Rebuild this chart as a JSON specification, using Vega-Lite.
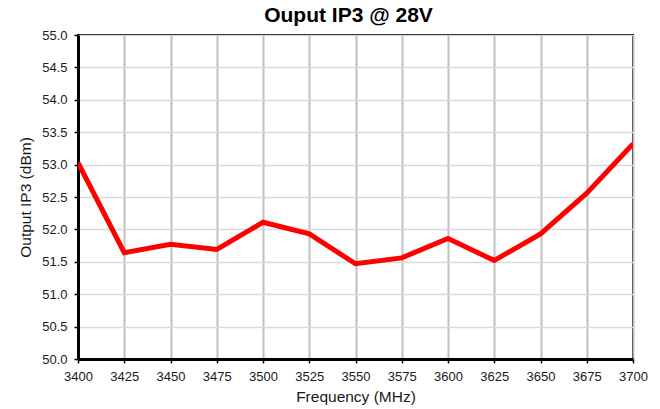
{
  "$schema": "https://vega.github.io/schema/vega-lite/v6.json",
  "autosize": "none",
  "width": 555,
  "height": 324,
  "padding": {"left": 78, "top": 35, "right": 27, "bottom": 50},
  "background": "white",
  "title": {"text": "Ouput IP3 @ 28V", "font": "Liberation Sans", "fontSize": 21, "fontWeight": "bold", "color": "black", "anchor": "middle", "offset": 3, "dx": -7},
  "config": {
    "view": {"stroke": "black", "strokeWidth": 2},
    "axis": {"labelFont": "Liberation Sans", "titleFont": "Liberation Sans", "labelColor": "#1a1a1a", "titleColor": "#1a1a1a", "labelFontSize": 13, "titleFontSize": 15.5, "titleFontWeight": "normal", "domainColor": "black", "domainWidth": 3, "tickColor": "black", "tickSize": 4, "tickWidth": 1.5}
  },
  "data": {"values": [
    {"f": 3400, "ip3": 53.03},
    {"f": 3425, "ip3": 51.64},
    {"f": 3450, "ip3": 51.77},
    {"f": 3475, "ip3": 51.69},
    {"f": 3500, "ip3": 52.11},
    {"f": 3525, "ip3": 51.93},
    {"f": 3550, "ip3": 51.47},
    {"f": 3575, "ip3": 51.56},
    {"f": 3600, "ip3": 51.86},
    {"f": 3625, "ip3": 51.52},
    {"f": 3650, "ip3": 51.93},
    {"f": 3675, "ip3": 52.56},
    {"f": 3700, "ip3": 53.32}
  ]},
  "layer": [
    {
      "mark": {"type": "line", "color": "#ff0000", "strokeWidth": 5, "strokeJoin": "miter", "clip": true},
      "encoding": {
        "x": {"field": "f", "type": "quantitative", "title": "Frequency (MHz)",
              "scale": {"domain": [3400, 3700], "nice": false, "zero": false},
              "axis": {"values": [3400,3425,3450,3475,3500,3525,3550,3575,3600,3625,3650,3675,3700], "format": "d", "grid": true, "gridColor": "#c0c0c0", "gridWidth": 2, "labelPadding": 7, "titlePadding": 6, "labelFlush": false}},
        "y": {"field": "ip3", "type": "quantitative", "title": "Output IP3 (dBm)",
              "scale": {"domain": [50, 55], "nice": false, "zero": false},
              "axis": {"values": [50,50.5,51,51.5,52,52.5,53,53.5,54,54.5,55], "format": ".1f", "grid": true, "gridColor": "#d9d9d9", "gridWidth": 1.5, "labelPadding": 7, "titlePadding": 8, "labelFlush": false}}
      }
    }
  ]
}
